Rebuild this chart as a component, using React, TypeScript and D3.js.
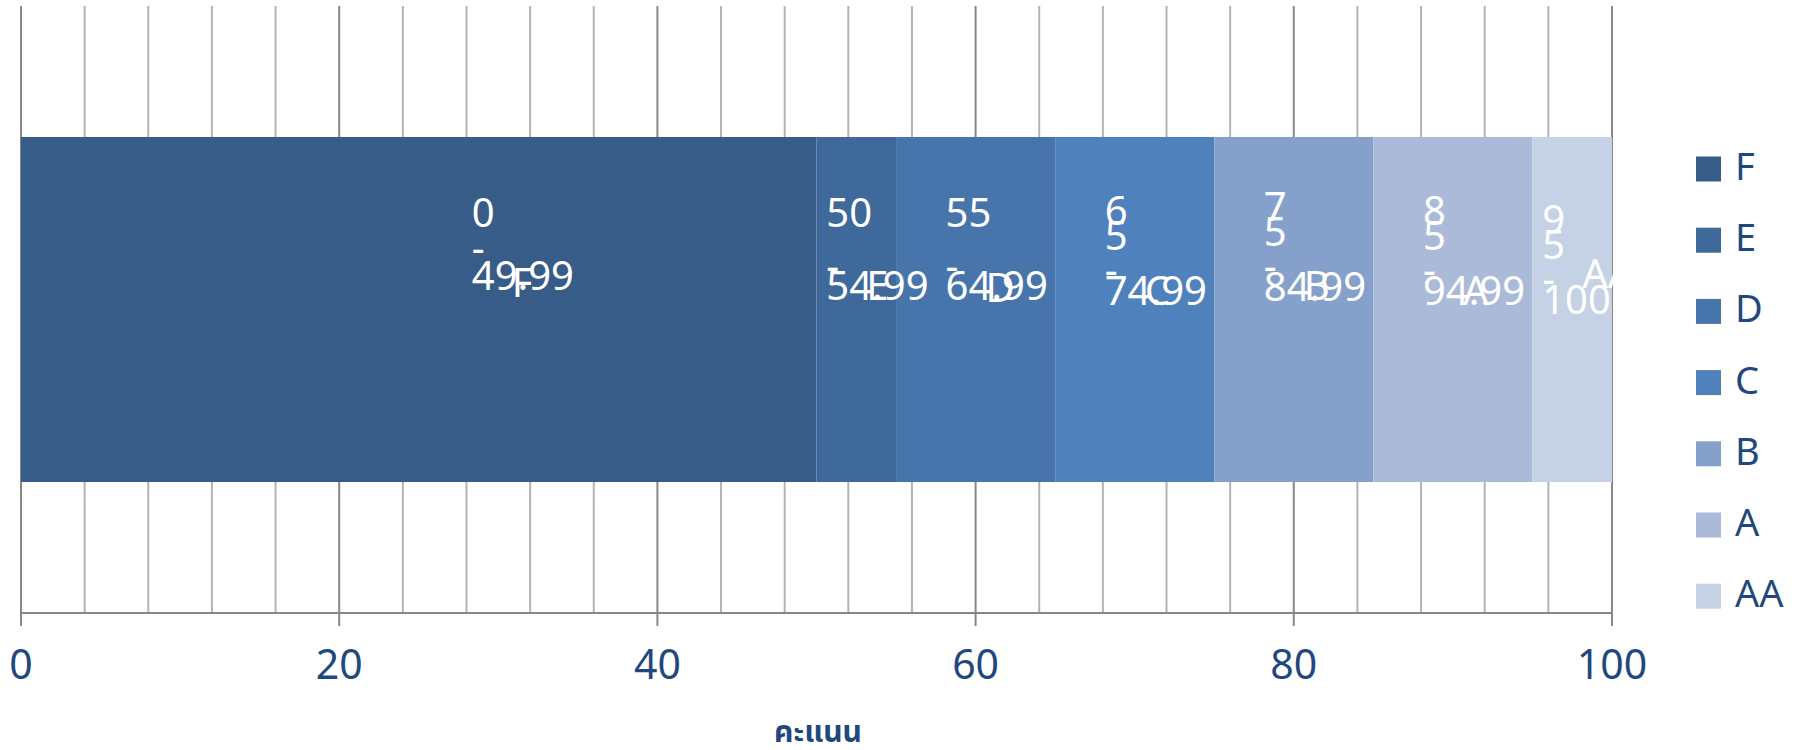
import React from 'react';
import * as d3 from 'd3';

// ---- data ----
const grades = ['F', 'E', 'D', 'C', 'B', 'A', 'AA'];
const rangeStart = [0, 50, 55, 65, 75, 85, 95];
const rangeWidth = [50, 5, 10, 10, 10, 10, 5];
const rangeLabelLines = [
  ['0', '-', '49.99'],
  ['50', '-', '54.99'],
  ['55', '-', '64.99'],
  ['6', '5', '-', '74.99'],
  ['7', '5', '-', '84.99'],
  ['8', '5', '-', '94.99'],
  ['9', '5', '-', '100'],
];
const xTicks = [0, 20, 40, 60, 80, 100];
const minorStep = 4;
const axisTitle = 'คะแนน';
const category = ['คะแนน'];

// ---- style / layout ----
const colors = ['#375c87', '#3f699b', '#4775ab', '#4f81bd', '#85a1cb', '#aabad8', '#c5d1e4'];
const W = 1801;
const H = 750;
const FONT = "'Noto Sans', 'Noto Sans Thai', Tahoma, 'DejaVu Sans', sans-serif";
const TEXT_BLUE = '#1f497d';

export default function App() {
  const plotTop = 6;
  const plotBottom = 613;
  const x = d3.scaleLinear().domain([0, 100]).range([21, 1612]);
  const y = d3
    .scaleBand<string>()
    .domain(category)
    .range([plotTop, plotBottom])
    .paddingInner(0)
    .paddingOuter(0.3797)
    .align(0.5);
  const barTop = y(category[0]) as number;
  const barH = y.bandwidth();

  const minorTicks = d3.range(0, 100 + 0.001, minorStep).filter((v) => v % 20 !== 0);

  const boxW = 60;
  const labelShift = [83, 0, 0, 0, 0, 0, 0];
  const labelDy = [0, 0, 0, 0, -4, 0, 9];
  const base3 = [227, 280, 300];
  const base3F = [227, 262, 290];
  const base4 = [225, 250, 284, 305];
  const seriesBase = [297, 300, 302, 305, 300, 305, 288];

  const legendX = 1696;
  const legendY0 = 169;
  const legendStep = 71.2;
  const sq = 25;

  return (
    <svg
      width={W}
      height={H}
      style={{ position: 'absolute', left: 0, top: 0, background: '#fff' }}
      fontFamily={FONT}
    >
      <rect x={0} y={0} width={W} height={H} fill="#fff" />
      {/* minor gridlines */}
      {minorTicks.map((v) => (
        <line key={'m' + v} x1={x(v)} x2={x(v)} y1={plotTop} y2={plotBottom} stroke="#b3b3b3" strokeWidth={2} />
      ))}
      {/* major gridlines + ticks */}
      {xTicks.map((v) => (
        <line key={'M' + v} x1={x(v)} x2={x(v)} y1={plotTop} y2={plotBottom + 13} stroke="#878787" strokeWidth={2} />
      ))}
      {/* axis line */}
      <line x1={x(0) - 1} x2={x(100) + 1} y1={plotBottom} y2={plotBottom} stroke="#878787" strokeWidth={2} />

      {/* bars */}
      {grades.map((g, i) => (
        <rect
          key={g}
          x={x(rangeStart[i])}
          y={barTop}
          width={x(rangeStart[i] + rangeWidth[i]) - x(rangeStart[i])}
          height={barH}
          fill={colors[i]}
        />
      ))}

      {/* data labels */}
      {grades.map((g, i) => {
        const x0 = x(rangeStart[i]);
        const x1 = x(rangeStart[i] + rangeWidth[i]);
        const left = x0 + (x1 - x0 - boxW) / 2 + labelShift[i];
        const lines = rangeLabelLines[i];
        const bases = lines.length === 3 ? (i === 0 ? base3F : base3) : base4;
        return (
          <g key={'l' + g} fill="#fff" fontSize={40}>
            {lines.map((t, j) => (
              <text key={j} x={left} y={bases[j] + labelDy[i]}>
                {t}
              </text>
            ))}
            <text x={left + 40} y={seriesBase[i]}>
              {g}
            </text>
          </g>
        );
      })}

      {/* x tick labels */}
      {xTicks.map((v) => (
        <text key={'t' + v} x={x(v)} y={679} textAnchor="middle" fontSize={41} fill={TEXT_BLUE}>
          {v}
        </text>
      ))}

      {/* axis title */}
      <text x={818} y={742} textAnchor="middle" fontSize={30} fontWeight="bold" fill={TEXT_BLUE}>
        {axisTitle}
      </text>

      {/* legend */}
      {grades.map((g, i) => {
        const cy = legendY0 + i * legendStep;
        return (
          <g key={'lg' + g}>
            <rect x={legendX} y={cy - sq / 2} width={sq} height={sq} fill={colors[i]} />
            <text x={1735} y={cy + 11} fontSize={38} fill={TEXT_BLUE}>
              {g}
            </text>
          </g>
        );
      })}
    </svg>
  );
}
